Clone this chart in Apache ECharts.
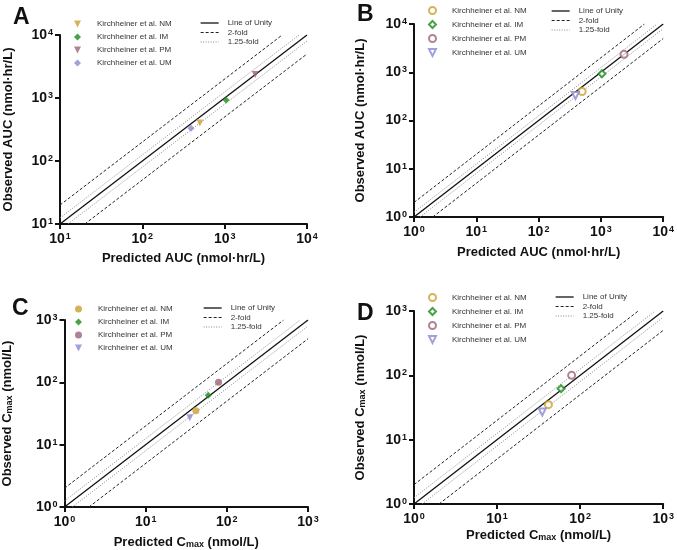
<!DOCTYPE html>
<html>
<head>
<meta charset="utf-8">
<script src="https://cdn.jsdelivr.net/npm/echarts@6/dist/echarts.min.js"></script>
<style>
  html, body { margin: 0; padding: 0; background: #fff; }
  #main { width: 677px; height: 550px; }
</style>
</head>
<body>
<div id="main"></div>
<script>
// groups (same order everywhere)
const groupNames = ['Kirchheiner et al. NM', 'Kirchheiner et al. IM', 'Kirchheiner et al. PM', 'Kirchheiner et al. UM'];
const groupColors = ['#c9a030', '#1a8c1a', '#9c6479', '#8a8ad2'];

// AUC (nmol·hr/L): predicted vs observed
const aucPredicted = [500, 1040, 2350, 390];
const aucObserved = [400, 930, 2350, 330];

// Cmax (nmol/L): predicted vs observed
const cmaxPredicted = [41.5, 59, 79, 35];
const cmaxObserved = [35, 62, 100, 27];

// axis ranges per panel
const rangeA = [10, 10000];
const rangeB = [1, 10000];
const rangeC = [1, 1000];
const rangeD = [1, 1000];

// guide lines: fold factors
const foldNames = ['Line of Unity', '2-fold', '1.25-fold'];
const foldFactors = [1, 2, 1.25];

const FONT = 'Liberation Sans';
const triDown = 'path://M0,0L10,0L5,10Z';

// marker shapes per panel (A, B, C, D)
const panelSymbols = [
  ['triDown', 'diamond', 'triDown', 'diamond'],
  ['circle', 'diamond', 'circle', 'triDown'],
  ['circle', 'diamond', 'circle', 'triDown'],
  ['circle', 'diamond', 'circle', 'triDown']
];
const panelHollow = [false, true, false, true];

const panels = [
  { grid: { left: 60, top: 35, width: 247, height: 189 }, range: rangeA, px: aucPredicted, ob: aucObserved,
    xName: 'Predicted AUC (nmol·hr/L)', yName: 'Observed AUC (nmol·hr/L)', xGap: 28, yGap: 45,
    letter: { text: 'A', left: 8, top: 1 }, mLeg: { left: 74, top: 20 }, lLeg: { left: 200, top: 19 } },
  { grid: { left: 414, top: 24, width: 252, height: 193 }, range: rangeB, px: aucPredicted, ob: aucObserved,
    xName: 'Predicted AUC (nmol·hr/L)', yName: 'Observed AUC (nmol·hr/L)', xGap: 29, yGap: 47,
    letter: { text: 'B', left: 352, top: -2 }, mLeg: { left: 428, top: 6 }, lLeg: { left: 551, top: 7 } },
  { grid: { left: 61, top: 320, width: 247, height: 189 }, range: rangeC, px: cmaxPredicted, ob: cmaxObserved,
    xName: '{n|Predicted C}{sub|max}{n| (nmol/L)}', yName: '{n|Observed C}{sub|max}{n| (nmol/L)}', xGap: 28, yGap: 50,
    letter: { text: 'C', left: 7, top: 292 }, mLeg: { left: 75, top: 305 }, lLeg: { left: 203, top: 304 } },
  { grid: { left: 414, top: 311, width: 253, height: 193 }, range: rangeD, px: cmaxPredicted, ob: cmaxObserved,
    xName: '{n|Predicted C}{sub|max}{n| (nmol/L)}', yName: '{n|Observed C}{sub|max}{n| (nmol/L)}', xGap: 24, yGap: 47,
    letter: { text: 'D', left: 352, top: 297 }, mLeg: { left: 428, top: 293 }, lLeg: { left: 555, top: 293 } }
];

const nameRich = {
  n: { fontFamily: FONT, fontSize: 13, fontWeight: 'bold', color: '#111' },
  sub: { fontFamily: FONT, fontSize: 9, fontWeight: 'bold', color: '#111', verticalAlign: 'bottom', padding: [5, 0, 0, 0] }
};

function tickLabel(v) {
  const e = Math.round(Math.log10(v));
  return '{b|10}{s|' + e + '}';
}
const tickRich = {
  b: { fontFamily: FONT, fontSize: 14, fontWeight: 'bold', color: '#111' },
  s: { fontFamily: FONT, fontSize: 9, fontWeight: 'bold', color: '#111', verticalAlign: 'top', padding: [0, 0, 0, 1] }
};

function axisBase(range) {
  return {
    type: 'log', logBase: 10, min: range[0], max: range[1],
    axisLine: { lineStyle: { color: '#111', width: 2 } },
    axisTick: { show: true, inside: false, length: 5, lineStyle: { color: '#111', width: 2 } },
    minorTick: { show: false },
    splitLine: { show: false },
    axisLabel: { formatter: tickLabel, rich: tickRich, margin: 8 },
    nameLocation: 'middle',
    nameTextStyle: { fontFamily: FONT, fontSize: 13, fontWeight: 'bold', color: '#111', rich: nameRich }
  };
}

function markerSymbol(s) { return s === 'triDown' ? triDown : s; }

const grids = [], xAxes = [], yAxes = [], series = [], legends = [], titles = [];
const lineStyles = [
  { color: '#111', width: 1.3, type: 'solid' },
  { color: '#222', width: 1, type: [3, 2] },
  { color: '#888', width: 1, type: [1, 1.5] }
];

panels.forEach((p, i) => {
  grids.push(p.grid);
  xAxes.push(Object.assign(axisBase(p.range), { gridIndex: i, name: p.xName, nameGap: p.xGap }));
  yAxes.push(Object.assign(axisBase(p.range), { gridIndex: i, name: p.yName, nameGap: p.yGap }));
  yAxes[i].axisLabel = Object.assign({}, yAxes[i].axisLabel, { margin: 7 });
  titles.push({ text: p.letter.text, left: p.letter.left, top: p.letter.top,
    textStyle: { fontFamily: FONT, fontSize: 23, fontWeight: 'bold', color: '#111' } });

  const lo = p.range[0], hi = p.range[1];
  // guide lines
  foldFactors.forEach((f, k) => {
    const segs = f === 1 ? [[[lo, lo], [hi, hi]]]
      : [[[lo, lo * f], [hi / f, hi]], [[lo * f, lo], [hi, hi / f]]];
    segs.forEach(seg => {
      series.push({ type: 'line', name: foldNames[k], xAxisIndex: i, yAxisIndex: i, data: seg,
        symbol: 'none', silent: true, lineStyle: lineStyles[k], z: 1 });
    });
  });

  // points
  const legData = [];
  groupNames.forEach((g, k) => {
    const sym = markerSymbol(panelSymbols[i][k]);
    const hollow = panelHollow[i];
    const style = hollow
      ? { color: '#fff', borderColor: groupColors[k], borderWidth: 2 }
      : { color: groupColors[k], borderWidth: 0 };
    series.push({ type: 'scatter', name: g, xAxisIndex: i, yAxisIndex: i,
      data: [[p.px[k], p.ob[k]]], symbol: sym, symbolSize: 7, itemStyle: style, z: 3 });
    legData.push({ name: g, icon: sym, itemStyle: style });
  });

  legends.push({ orient: 'vertical', left: p.mLeg.left, top: p.mLeg.top, data: legData,
    itemWidth: 7, itemHeight: 7, itemGap: 5, selectedMode: false, padding: 0,
    textStyle: { fontFamily: FONT, fontSize: 8, color: '#333', lineHeight: 7, padding: [0, 0, 0, 11] } });
  legends.push({ orient: 'vertical', left: p.lLeg.left, top: p.lLeg.top,
    data: foldNames.map((n, k) => ({ name: n, lineStyle: lineStyles[k],
      itemStyle: { color: 'rgba(0,0,0,0)', borderWidth: 0, opacity: 0 } })),
    itemWidth: 18, itemHeight: 6, itemGap: 1.5, selectedMode: false, padding: 0,
    textStyle: { fontFamily: FONT, fontSize: 8, color: '#333', lineHeight: 6, padding: [0, 0, 0, 4] } });
});

const chart = echarts.init(document.getElementById('main'), null, { renderer: 'canvas' });
chart.setOption({
  animation: false,
  backgroundColor: '#fff',
  title: titles,
  grid: grids,
  xAxis: xAxes,
  yAxis: yAxes,
  legend: legends,
  series: series
});
</script>
</body>
</html>
